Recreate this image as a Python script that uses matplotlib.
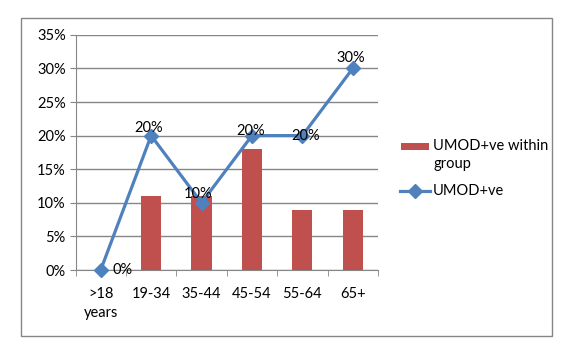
import matplotlib.pyplot as plt
import numpy as np
from matplotlib.patches import Rectangle
from matplotlib.lines import Line2D
from matplotlib.ticker import PercentFormatter

# dati
categorie = ['>18\nyears', '19-34', '35-44', '45-54', '55-64', '65+']
umod_within_group = [0, 11, 11, 18, 9, 9]
umod_pos = [0, 20, 10, 20, 20, 30]
etichette = ['0%', '20%', '10%', '20%', '20%', '30%']
# spostamento delle etichette (pixel)
offset = [(22, 0), (-2, 8), (-3, 9), (-1, 5), (3, 0), (-2, 10)]

plt.rcParams['font.family'] = ['Lato', 'DejaVu Sans']
fs = 10.5
blu = '#4F81BD'
rosso = '#C0504D'
grigio = '#868686'
W, H = 568, 351

fig = plt.figure(figsize=(5.68, 3.51), dpi=100)
fig.patches.append(Rectangle((20.7 / W, 1 - 336 / H), (552 - 20.7) / W, (336 - 18) / H,
                             transform=fig.transFigure, fill=False, edgecolor=grigio, linewidth=1))
ax = fig.add_axes([75.5 / W, 1 - 270 / H, (378 - 75.5) / W, (270 - 34.8) / H])

x = np.arange(len(categorie))
ax.bar(x, umod_within_group, width=0.4, color=rosso, zorder=2)
ax.plot(x, umod_pos, color=blu, linewidth=2.3, marker='D', markersize=7, zorder=3, clip_on=False)
for xi, yi, t, (dx, dy) in zip(x, umod_pos, etichette, offset):
    ax.annotate(t, (xi, yi), xytext=(dx * 0.72, dy * 0.72), textcoords='offset points',
                ha='center', va='center', fontsize=fs, zorder=4)

ax.set_xlim(-0.5, 5.5)
ax.set_ylim(0, 35)
ax.set_yticks(range(0, 36, 5))
ax.yaxis.set_major_formatter(PercentFormatter(decimals=0))
ax.set_xticks(x)
ax.set_xticklabels(categorie, fontsize=fs, linespacing=1.45)
ax.set_xticks(np.arange(-0.5, 6, 1), minor=True)
ax.tick_params(axis='x', which='major', length=0, pad=12)
ax.tick_params(axis='x', which='minor', length=4, color=grigio)
ax.tick_params(axis='y', length=4, color=grigio, labelsize=fs, pad=3)
ax.grid(axis='y', color=grigio, linewidth=1, zorder=0)
for s in ['top', 'right']:
    ax.spines[s].set_visible(False)
for s in ['left', 'bottom']:
    ax.spines[s].set_color(grigio)

# legenda disegnata a mano (come in Excel, il simbolo sta sulla prima riga)
fig.patches.append(Rectangle((401 / W, 1 - 150 / H), 28 / W, 7 / H,
                             transform=fig.transFigure, facecolor=rosso, edgecolor='none'))
fig.text(433 / W, 1 - 146 / H, 'UMOD+ve within', fontsize=fs, va='center')
fig.text(433 / W, 1 - 164 / H, 'group', fontsize=fs, va='center')
fig.lines.append(Line2D([400 / W, 430 / W], [1 - 190.7 / H] * 2, transform=fig.transFigure,
                        color=blu, linewidth=2.3))
fig.lines.append(Line2D([415 / W], [1 - 190.7 / H], transform=fig.transFigure,
                        color=blu, marker='D', markersize=7, linestyle='none'))
fig.text(433 / W, 1 - 190.7 / H, 'UMOD+ve', fontsize=fs, va='center')

fig.savefig('out.png', dpi=100)
